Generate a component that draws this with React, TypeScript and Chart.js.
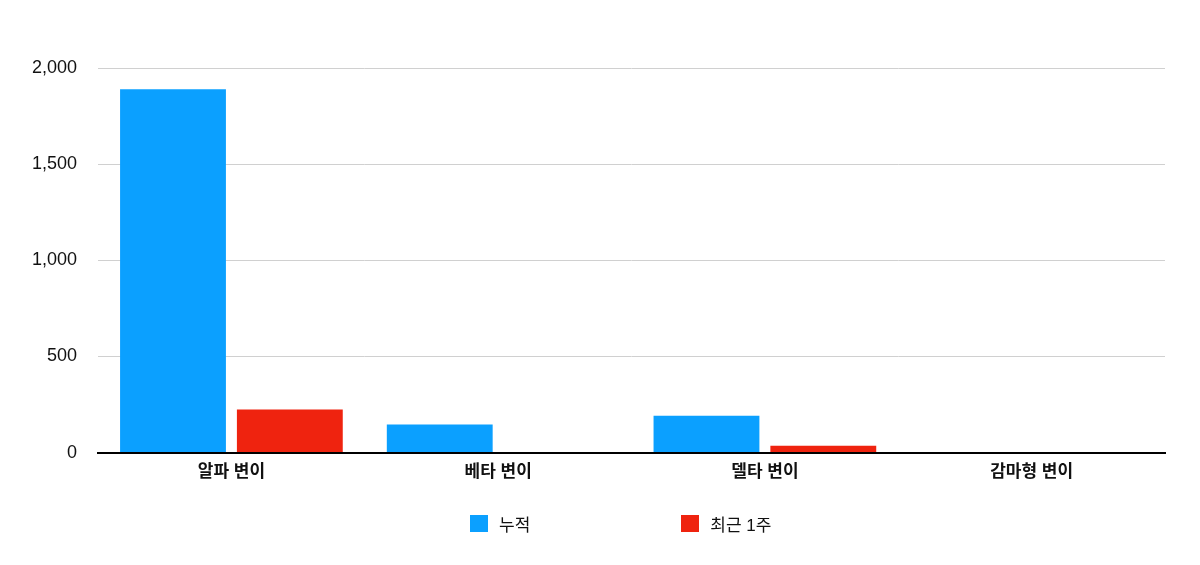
import { useEffect, useRef } from "react"
import { Chart, registerables } from "chart.js"

Chart.register(...registerables)

const categories = ["알파 변이", "베타 변이", "델타 변이", "감마형 변이"]
const cumulative = [1889, 146, 191, 0]
const recentWeek = [224, 0, 36, 0]
const seriesNames = ["누적", "최근 1주"]
const yTicks = [0, 500, 1000, 1500, 2000]

const BLUE = "#0ba0ff"
const RED = "#ef230f"
const FONT = "'Liberation Sans', 'Noto Sans CJK KR', sans-serif"

export default function App() {
  const chartRef = useRef<HTMLCanvasElement>(null)
  const chartInstance = useRef<Chart | null>(null)

  useEffect(() => {
    document.body.style.margin = "0"
    if (!chartRef.current) return
    if (chartInstance.current) chartInstance.current.destroy()
    const ctx = chartRef.current.getContext("2d")
    if (!ctx) return

    chartInstance.current = new Chart(ctx, {
      type: "bar",
      data: {
        labels: categories,
        datasets: [
          { label: seriesNames[0], data: cumulative, backgroundColor: BLUE, categoryPercentage: 0.876, barPercentage: 0.906 },
          { label: seriesNames[1], data: recentWeek, backgroundColor: RED, categoryPercentage: 0.876, barPercentage: 0.906 },
        ],
      },
      options: {
        animation: false,
        responsive: true,
        maintainAspectRatio: false,
        layout: { padding: { left: 11, right: 35, top: 68, bottom: 72 } },
        plugins: {
          legend: { display: false },
          tooltip: { enabled: false },
        },
        scales: {
          x: {
            grid: { display: false, drawTicks: false },
            border: { color: "#000", width: 2 },
            ticks: { color: "#111", padding: 10, font: { family: FONT, size: 17, weight: "bold" } },
          },
          y: {
            min: 0,
            max: 2000,
            afterBuildTicks: (axis: any) => {
              axis.ticks = yTicks.map((v) => ({ value: v }))
            },
            border: { display: false },
            grid: {
              drawTicks: false,
              color: (c: any) => (c.tick && c.tick.value === 0 ? "rgba(0,0,0,0)" : "#d0d0d0"),
              lineWidth: 1,
            },
            ticks: {
              color: "#111",
              padding: 21,
              font: { family: FONT, size: 18 },
              callback: (v: any) => Number(v).toLocaleString("en-US"),
            },
          },
        },
      },
    })

    return () => {
      if (chartInstance.current) {
        chartInstance.current.destroy()
        chartInstance.current = null
      }
    }
  }, [])

  const legendItems = [
    { name: seriesNames[0], color: BLUE },
    { name: seriesNames[1], color: RED },
  ]

  return (
    <div style={{ position: "relative", width: 1200, height: 565, background: "#fff" }}>
      <canvas ref={chartRef} />
      <div
        style={{
          position: "absolute",
          left: 470,
          top: 511,
          display: "flex",
          gap: 151,
          fontFamily: FONT,
          fontSize: 17,
          color: "#111",
        }}
      >
        {legendItems.map((it) => (
          <div key={it.name} style={{ display: "flex", alignItems: "center", gap: 11 }}>
            <span style={{ width: 18, height: 17, background: it.color, display: "inline-block" }} />
            <span>{it.name}</span>
          </div>
        ))}
      </div>
    </div>
  )
}
